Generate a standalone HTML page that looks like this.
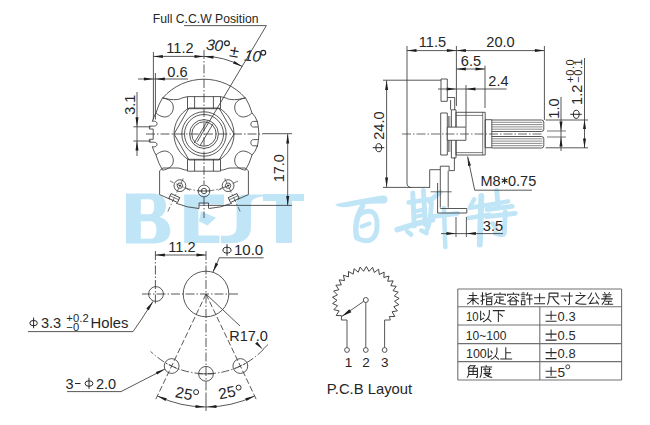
<!DOCTYPE html>
<html><head><meta charset="utf-8"><style>
html,body{margin:0;padding:0;background:#fff;overflow:hidden;}
svg{display:block;font-family:"Liberation Sans",sans-serif;}
</style></head><body>
<svg width="650" height="425" viewBox="0 0 650 425">
<rect width="650" height="425" fill="#fff"/>
<path d="M126,193.5 L152,193.5 C162.5,193.5 166,199.5 166,205.5 C166,211 163.5,215 159.5,217 C166.5,219 170.3,224.5 170.3,230.5 C170.3,238.5 165,243.5 153,243.5 L126,243.5 Z M140.8,199.2 L149.5,199.2 C153,199.2 154.2,202 154.2,206.5 C154.2,211 153,214.2 149.5,214.2 L140.8,214.2 Z M140.8,221.2 L150.5,221.2 C155,221.2 156.4,225 156.4,230 C156.4,235 155,238.8 150.5,238.8 L140.8,238.8 Z" stroke="none" stroke-width="0" fill="#bfe5f7" fill-rule="evenodd"/>
<path d="M184.2,194.4 L224,194.4 L224,204.4 L198.4,204.4 L198.4,235.5 L219.5,235.5 L219.5,243 L184.2,243 Z" stroke="none" stroke-width="0" fill="#bfe5f7"/>
<path d="M201,211.3 L216,217.7 L207.5,225.4 L199,221.2 Z" stroke="none" stroke-width="0" fill="#bfe5f7"/>
<path d="M236.5,199 C237.5,196 241,194.4 247,194.4 L265,194.4 L264,196.5 C258,197 252,198.5 251.2,203 L250.8,229 C250.3,239 242,243.3 228,243.3 L221,243.3 L221,235.8 L226,235.8 C233,235.8 236.6,233 236.6,227 Z" stroke="none" stroke-width="0" fill="#bfe5f7"/>
<rect x="263" y="194" width="41" height="7" fill="#bfe5f7"/>
<rect x="276" y="194" width="16" height="49" fill="#bfe5f7"/>
<g stroke="#bfe5f7" stroke-linecap="round" stroke-linejoin="round" fill="none" stroke-width="5">
<path d="M335,204.5 C342,202.5 352,200.8 360,199.3 C368,197.8 376,196.6 382,195.6 C386,195 388,197.5 387.5,200.5 C387,203 384.5,204 381,203.6 C372,203.2 362,204.2 352,206.2 C345,207.5 339,208 335,204.5 Z" stroke="none" stroke-width="0" fill="#bfe5f7"/>
<path d="M362.5,206 C358.5,213 355.8,221 355.8,229 C355.8,233 356.2,236 357,238" stroke-width="5.5"/>
<path d="M357,217.5 C361,212.5 366,210.5 371,211.5 C376,213 377.5,220 377,228 C376.5,236 372,240.8 366.5,240.8 C361,240.8 357.5,238.5 357,236" stroke-width="4.9"/>
<path d="M361.5,226.5 L369.5,223.5" stroke-width="4.1"/>
<path d="M412.8,193 L414.2,226" stroke-width="4.9"/>
<path d="M423.4,190.5 L425.3,224.5" stroke-width="4.9"/>
<path d="M408.5,202.5 L429.7,199.3" stroke-width="4.5"/>
<path d="M415.6,211.3 L425.5,209.2" stroke-width="4.1"/>
<path d="M415.6,216.6 L425.5,214.8" stroke-width="4.1"/>
<path d="M397.2,229.7 C408,226 420,222.5 432.6,219.8" stroke-width="5.5"/>
<path d="M407.2,231.5 L411.2,234.6" stroke-width="4.5"/>
<path d="M421.3,230.5 L426.6,233.2" stroke-width="4.5"/>
<path d="M429.5,201.5 C433,198 436.5,195 440,192.5" stroke-width="4.9"/>
<path d="M431.5,203 C431,214 430,223 426.9,230" stroke-width="4.7"/>
<path d="M434,216.3 L457.5,213.4" stroke-width="4.7"/>
<path d="M444,208 L445.3,247" stroke-width="4.5"/>
<path d="M474.2,199.3 L470.5,206" stroke-width="4.5"/>
<path d="M470,207.8 L488.3,205" stroke-width="4.7"/>
<path d="M468.5,218 L489.7,214.8" stroke-width="4.7"/>
<path d="M481.3,196 L479.8,244.5" stroke-width="5.9"/>
<path d="M488.3,205 L508,201.4" stroke-width="4.5"/>
<path d="M496.8,190.8 L498.2,207.8" stroke-width="4.9"/>
<path d="M487,209.6 L512.3,206.4" stroke-width="4.7"/>
<path d="M487,216.6 L515.2,213.4" stroke-width="4.9"/>
<path d="M505.3,212 L504.3,233 C503.5,235 500,235 495.4,233.2" stroke-width="4.9"/>
<path d="M492.6,223.3 L495.4,227.6" stroke-width="4.5"/>
</g>
<text x="152.8" y="23" font-size="12.2" text-anchor="start" fill="#262626">Full C.C.W Position</text>
<line x1="184" y1="25.6" x2="266.4" y2="25.6" stroke="#3a3a3a" stroke-width="0.85"/>
<line x1="266.4" y1="25.6" x2="197.2" y2="141.8" stroke="#3a3a3a" stroke-width="0.85"/>
<text x="180" y="53" font-size="14.6" text-anchor="middle" fill="#262626">11.2</text>
<line x1="153.4" y1="52" x2="153.4" y2="119.5" stroke="#3a3a3a" stroke-width="0.85"/>
<line x1="155.4" y1="73" x2="155.4" y2="119.5" stroke="#3a3a3a" stroke-width="0.85"/>
<line x1="153.4" y1="56.4" x2="204" y2="56.4" stroke="#3a3a3a" stroke-width="0.85"/>
<polygon points="153.4,56.4 162.9,57.9 162.9,54.9" fill="#1e1e1e"/>
<polygon points="204,56.4 194.5,54.9 194.5,57.9" fill="#1e1e1e"/>
<text x="177.5" y="76.6" font-size="14.6" text-anchor="middle" fill="#262626">0.6</text>
<line x1="138" y1="79" x2="188" y2="79" stroke="#3a3a3a" stroke-width="0.85"/>
<polygon points="153.4,79 143.9,77.5 143.9,80.5" fill="#1e1e1e"/>
<polygon points="155.4,79 164.9,80.5 164.9,77.5" fill="#1e1e1e"/>
<path d="M204,56.4 A77.6,77.6 0 0 1 242.21,66.46" stroke="#3a3a3a" stroke-width="0.85" fill="none"/>
<polygon points="204,56.4 213.35,58.65 213.59,55.66" fill="#1e1e1e"/>
<polygon points="242.21,66.46 234.36,60.91 233.03,63.6" fill="#1e1e1e"/>
<text x="205.8" y="49.8" font-size="15.5" text-anchor="start" fill="#262626" transform="rotate(5 205.8 49.8)" font-style="italic" letter-spacing="-0.4">30</text>
<circle cx="227" cy="43.2" r="2.4" stroke="#262626" stroke-width="1.15" fill="none"/>
<text x="228.8" y="56.2" font-size="17" text-anchor="start" fill="#262626" transform="rotate(10 228.8 56.2)">±</text>
<text x="243.8" y="60.6" font-size="15.5" text-anchor="start" fill="#262626" transform="rotate(5 243.8 60.6)" font-style="italic" letter-spacing="-0.4">10</text>
<circle cx="263.3" cy="52.8" r="2.4" stroke="#262626" stroke-width="1.15" fill="none"/>
<line x1="204" y1="50" x2="204" y2="184.5" stroke="#3a3a3a" stroke-width="0.85" stroke-dasharray="9 2 1.5 2"/>
<line x1="204" y1="197" x2="204" y2="218" stroke="#3a3a3a" stroke-width="0.85" stroke-dasharray="9 2 1.5 2"/>
<line x1="146" y1="134" x2="263" y2="134" stroke="#3a3a3a" stroke-width="0.85" stroke-dasharray="9 2 1.5 2"/>
<path d="M162.75,97.93 A54.8,54.8 0 0 1 245.25,97.93" stroke="#3a3a3a" stroke-width="0.85" fill="none"/>
<path d="M162.6,97.8 Q158.4,104.6 156,112.9" stroke="#3a3a3a" stroke-width="0.85" fill="none"/>
<path d="M162.6,170.2 Q158.4,163.4 156,155.1" stroke="#3a3a3a" stroke-width="0.85" fill="none"/>
<path d="M245.4,97.8 Q249.6,104.6 252,112.9" stroke="#3a3a3a" stroke-width="0.85" fill="none"/>
<path d="M245.4,170.2 Q249.6,163.4 252,155.1" stroke="#3a3a3a" stroke-width="0.85" fill="none"/>
<path d="M162.6,97.8 C168,99 173,101 173.3,107 C173.5,112.5 169.5,117 164.5,117 C161,116.7 158,115 156,112.9" stroke="#3a3a3a" stroke-width="0.85" fill="none"/>
<path d="M162.6,170.2 C168,169 173,167 173.3,161 C173.5,155.5 169.5,151 164.5,151 C161,151.3 158,153 156,155.1" stroke="#3a3a3a" stroke-width="0.85" fill="none"/>
<path d="M162.6,97.8 C170,100 178,100.5 182,98 L187.5,96.6" stroke="#3a3a3a" stroke-width="0.85" fill="none"/>
<path d="M162.9,168 L178,168 C181,168 183,170.2 187.5,170.2" stroke="#3a3a3a" stroke-width="0.85" fill="none"/>
<path d="M245.4,97.8 C240,99 235,101 234.7,107 C234.5,112.5 238.5,117 243.5,117 C247,116.7 250,115 252,112.9" stroke="#3a3a3a" stroke-width="0.85" fill="none"/>
<path d="M245.4,170.2 C240,169 235,167 234.7,161 C234.5,155.5 238.5,151 243.5,151 C247,151.3 250,153 252,155.1" stroke="#3a3a3a" stroke-width="0.85" fill="none"/>
<path d="M245.4,97.8 C238,100 230,100.5 226,98 L220.5,96.6" stroke="#3a3a3a" stroke-width="0.85" fill="none"/>
<path d="M245.1,168 L230,168 C227,168 225,170.2 220.5,170.2" stroke="#3a3a3a" stroke-width="0.85" fill="none"/>
<path d="M156,112.9 Q153.6,117 152.3,121.4 C155,120.5 157.5,122 157,124.2 C156.6,126 155,126.1 153,126.1 L149.4,126.1 L149.4,129 L153.2,129 L153.2,139.3 L149.4,139.3 L149.4,142.2 L153,142.2 C155,142.2 156.6,142.5 157,144 C157.5,146 155,147.5 152.3,146.6 Q153.6,151 156,155.1" stroke="#3a3a3a" stroke-width="0.85" fill="none"/>
<path d="M252,112.9 Q255.6,116.5 257.3,121.4" stroke="#3a3a3a" stroke-width="0.85" fill="none"/>
<path d="M257.6,121.4 L253.4,121.4 C250,121.4 250,127 253.4,127 L258.1,127" stroke="#3a3a3a" stroke-width="0.85" fill="none"/>
<path d="M258.1,139.6 L253.4,139.6 C250,139.6 250,145.8 253.4,145.8 L257.5,145.8" stroke="#3a3a3a" stroke-width="0.85" fill="none"/>
<path d="M257.3,146 Q255.6,151.5 252,155.1" stroke="#3a3a3a" stroke-width="0.85" fill="none"/>
<path d="M257.29,121.21 A54.8,54.8 0 0 1 257.29,146.79" stroke="#3a3a3a" stroke-width="0.85" fill="none"/>
<polygon points="187.5,96.6 220.5,96.6 220.5,108.7 187.5,108.7" stroke="#3a3a3a" stroke-width="0.85" fill="none"/>
<line x1="194.6" y1="96.6" x2="194.6" y2="108.7" stroke="#3a3a3a" stroke-width="0.85"/>
<line x1="213.4" y1="96.6" x2="213.4" y2="108.7" stroke="#3a3a3a" stroke-width="0.85"/>
<polygon points="187.5,159.3 220.5,159.3 220.5,171.2 187.5,171.2" stroke="#3a3a3a" stroke-width="0.85" fill="none"/>
<line x1="194.6" y1="159.3" x2="194.6" y2="171.2" stroke="#3a3a3a" stroke-width="0.85"/>
<line x1="213.4" y1="159.3" x2="213.4" y2="171.2" stroke="#3a3a3a" stroke-width="0.85"/>
<polygon points="174,134 189,108.02 219,108.02 234,134 219,159.98 189,159.98" stroke="#3a3a3a" stroke-width="0.85" fill="none"/>
<path d="M189,159.98 A30,30 0 0 1 189,108.02" stroke="#3a3a3a" stroke-width="0.85" fill="none"/>
<path d="M219,108.02 A30,30 0 0 1 219,159.98" stroke="#3a3a3a" stroke-width="0.85" fill="none"/>
<circle cx="204" cy="134" r="22.2" stroke="#3a3a3a" stroke-width="0.85" fill="none"/>
<circle cx="204" cy="134" r="19.5" stroke="#3a3a3a" stroke-width="0.85" fill="none"/>
<circle cx="204" cy="134" r="14.4" stroke="#3a3a3a" stroke-width="0.85" fill="none"/>
<circle cx="204" cy="134" r="12.2" stroke="#3a3a3a" stroke-width="0.85" fill="none"/>
<line x1="207.6" y1="120.6" x2="194.2" y2="143" stroke="#3a3a3a" stroke-width="0.85"/>
<line x1="213.2" y1="123.6" x2="200.2" y2="145.4" stroke="#3a3a3a" stroke-width="0.85"/>
<polyline points="162.9,168 159.6,170.8 159.6,194.6 170,199.2" stroke="#3a3a3a" stroke-width="0.85" fill="none"/>
<polyline points="245.1,168 248.4,170.8 248.4,194.6 238,199.2" stroke="#3a3a3a" stroke-width="0.85" fill="none"/>
<path d="M176.09,203.29 A74.7,74.7 0 0 0 199,208.53" stroke="#3a3a3a" stroke-width="0.85" fill="none"/>
<path d="M209,208.53 A74.7,74.7 0 0 0 231.91,203.29" stroke="#3a3a3a" stroke-width="0.85" fill="none"/>
<polyline points="199,208.5 199,203 208.5,203 208.5,208.5" stroke="#3a3a3a" stroke-width="0.85" fill="none"/>
<line x1="199" y1="205.5" x2="208.5" y2="205.5" stroke="#3a3a3a" stroke-width="0.6"/>
<g transform="rotate(24.9 174.27 198.04)"><rect x="169.47" y="195.34" width="9.6" height="5.4" fill="none" stroke="#3a3a3a" stroke-width="0.85"/><line x1="169.47" y1="197.74" x2="179.07" y2="197.74" stroke="#3a3a3a" stroke-width="0.6"/></g>
<g transform="rotate(-24.9 233.73 198.04)"><rect x="228.93" y="195.34" width="9.6" height="5.4" fill="none" stroke="#3a3a3a" stroke-width="0.85"/><line x1="228.93" y1="197.74" x2="238.53" y2="197.74" stroke="#3a3a3a" stroke-width="0.6"/></g>
<circle cx="179.91" cy="185.66" r="5.9" stroke="#3a3a3a" stroke-width="0.85" fill="none"/>
<circle cx="179.91" cy="185.66" r="2.7" stroke="#3a3a3a" stroke-width="0.85" fill="none"/>
<circle cx="179.91" cy="185.66" r="0.6" stroke="#3a3a3a" stroke-width="0.85" fill="#3a3a3a"/>
<line x1="183.29" y1="178.41" x2="167.65" y2="211.94" stroke="#3a3a3a" stroke-width="0.7" stroke-dasharray="5 2 1.5 2"/>
<line x1="189.88" y1="190.31" x2="169.94" y2="181.01" stroke="#3a3a3a" stroke-width="0.7" stroke-dasharray="6 3"/>
<circle cx="204" cy="191" r="5.9" stroke="#3a3a3a" stroke-width="0.85" fill="none"/>
<circle cx="204" cy="191" r="2.7" stroke="#3a3a3a" stroke-width="0.85" fill="none"/>
<line x1="198.1" y1="191" x2="209.9" y2="191" stroke="#3a3a3a" stroke-width="0.8"/>
<circle cx="228.09" cy="185.66" r="5.9" stroke="#3a3a3a" stroke-width="0.85" fill="none"/>
<circle cx="228.09" cy="185.66" r="2.7" stroke="#3a3a3a" stroke-width="0.85" fill="none"/>
<circle cx="228.09" cy="185.66" r="0.6" stroke="#3a3a3a" stroke-width="0.85" fill="#3a3a3a"/>
<line x1="224.71" y1="178.41" x2="240.35" y2="211.94" stroke="#3a3a3a" stroke-width="0.7" stroke-dasharray="5 2 1.5 2"/>
<line x1="238.06" y1="181.01" x2="218.12" y2="190.31" stroke="#3a3a3a" stroke-width="0.7" stroke-dasharray="6 3"/>
<path d="M225.35,186.85 A57,57 0 0 1 182.65,186.85" stroke="#3a3a3a" stroke-width="0.7" fill="none" stroke-dasharray="6 2 1.5 2"/>
<line x1="137" y1="92" x2="137" y2="156" stroke="#3a3a3a" stroke-width="0.85"/>
<polygon points="137,126.8 138.5,117.3 135.5,117.3" fill="#1e1e1e"/>
<polygon points="137,141 135.5,150.5 138.5,150.5" fill="#1e1e1e"/>
<line x1="133.4" y1="126.8" x2="151" y2="126.8" stroke="#3a3a3a" stroke-width="0.85"/>
<line x1="133.4" y1="141" x2="151" y2="141" stroke="#3a3a3a" stroke-width="0.85"/>
<text x="135" y="104.7" font-size="14.5" text-anchor="middle" fill="#262626" transform="rotate(-90 135 104.7)">3.1</text>
<line x1="263" y1="133.7" x2="292" y2="133.7" stroke="#3a3a3a" stroke-width="0.85"/>
<line x1="208.5" y1="205.4" x2="292" y2="205.4" stroke="#3a3a3a" stroke-width="0.85"/>
<line x1="287.7" y1="134" x2="287.7" y2="205.4" stroke="#3a3a3a" stroke-width="0.85"/>
<polygon points="287.7,134 286.2,143.5 289.2,143.5" fill="#1e1e1e"/>
<polygon points="287.7,205.4 289.2,195.9 286.2,195.9" fill="#1e1e1e"/>
<text x="284" y="168.2" font-size="14.5" text-anchor="middle" fill="#262626" transform="rotate(-90 284 168.2)">17.0</text>
<line x1="407" y1="46" x2="407" y2="80" stroke="#3a3a3a" stroke-width="0.85"/>
<line x1="407" y1="50.6" x2="456.4" y2="50.6" stroke="#3a3a3a" stroke-width="0.85"/>
<polygon points="407,50.6 416.5,52.1 416.5,49.1" fill="#1e1e1e"/>
<polygon points="456.4,50.6 446.9,49.1 446.9,52.1" fill="#1e1e1e"/>
<text x="432.5" y="47.4" font-size="14.6" text-anchor="middle" fill="#262626">11.5</text>
<line x1="456.4" y1="46" x2="456.4" y2="106" stroke="#3a3a3a" stroke-width="0.85"/>
<line x1="456.4" y1="50.6" x2="544.4" y2="50.6" stroke="#3a3a3a" stroke-width="0.85"/>
<polygon points="456.4,50.6 465.9,52.1 465.9,49.1" fill="#1e1e1e"/>
<polygon points="544.4,50.6 534.9,49.1 534.9,52.1" fill="#1e1e1e"/>
<text x="500.5" y="47.4" font-size="14.6" text-anchor="middle" fill="#262626">20.0</text>
<line x1="544.4" y1="46" x2="544.4" y2="120" stroke="#3a3a3a" stroke-width="0.85"/>
<line x1="456.4" y1="69" x2="485" y2="69" stroke="#3a3a3a" stroke-width="0.85"/>
<polygon points="456.4,69 465.9,70.5 465.9,67.5" fill="#1e1e1e"/>
<polygon points="485,69 475.5,67.5 475.5,70.5" fill="#1e1e1e"/>
<text x="471" y="66.4" font-size="14.6" text-anchor="middle" fill="#262626">6.5</text>
<line x1="485" y1="65.6" x2="485" y2="108" stroke="#3a3a3a" stroke-width="0.85"/>
<line x1="438" y1="89" x2="506.6" y2="89" stroke="#3a3a3a" stroke-width="0.85"/>
<polygon points="456.2,89 446.7,87.5 446.7,90.5" fill="#1e1e1e"/>
<polygon points="466,89 475.5,90.5 475.5,87.5" fill="#1e1e1e"/>
<text x="498.5" y="86" font-size="14.6" text-anchor="middle" fill="#262626">2.4</text>
<line x1="466" y1="85" x2="466" y2="127" stroke="#3a3a3a" stroke-width="0.85"/>
<line x1="383" y1="80.2" x2="441" y2="80.2" stroke="#3a3a3a" stroke-width="0.85"/>
<line x1="383" y1="187.4" x2="430" y2="187.4" stroke="#3a3a3a" stroke-width="0.85"/>
<line x1="386.6" y1="80.4" x2="386.6" y2="187" stroke="#3a3a3a" stroke-width="0.85"/>
<polygon points="386.6,80.4 385.1,89.9 388.1,89.9" fill="#1e1e1e"/>
<polygon points="386.6,187 388.1,177.5 385.1,177.5" fill="#1e1e1e"/>
<g transform="rotate(-90 384 152)">
<ellipse cx="388.3" cy="146.75" rx="4.06" ry="2.87" stroke="#262626" stroke-width="1.0" fill="none"/>
<line x1="388.3" y1="140.8" x2="388.3" y2="152.28" stroke="#262626" stroke-width="1.0"/>
<text x="396.3" y="152" font-size="14.5" text-anchor="start" fill="#262626">24.0</text>
</g>
<path d="M407,80 L407,183 Q407,187.4 411,187.4" stroke="#3a3a3a" stroke-width="0.85" fill="none"/>
<polyline points="429.7,187.4 429.7,169.7 440.3,169.7" stroke="#3a3a3a" stroke-width="0.85" fill="none"/>
<polygon points="441,79 447.3,79 447.3,101.3 441,101.3" stroke="#3a3a3a" stroke-width="0.85" fill="none"/>
<polyline points="447.3,97.5 454.7,97.5 454.7,109.8" stroke="#3a3a3a" stroke-width="0.85" fill="none"/>
<line x1="450.6" y1="100" x2="450.6" y2="109.8" stroke="#3a3a3a" stroke-width="0.85"/>
<polygon points="451.4,109.8 456,109.8 456,158 451.4,158" stroke="#3a3a3a" stroke-width="0.85" fill="none"/>
<polygon points="440.7,113 447.3,113 447.3,155 440.7,155" stroke="#3a3a3a" stroke-width="0.85" fill="none"/>
<line x1="448.5" y1="116" x2="448.5" y2="152" stroke="#3a3a3a" stroke-width="0.6"/>
<line x1="449.8" y1="116" x2="449.8" y2="152" stroke="#3a3a3a" stroke-width="0.6"/>
<polyline points="440.3,207.6 440.3,166.2 449.1,166.2 449.1,170.6 454.4,170.6 454.4,157.4" stroke="#3a3a3a" stroke-width="0.85" fill="none"/>
<line x1="448.2" y1="170.6" x2="448.2" y2="207.6" stroke="#3a3a3a" stroke-width="0.85"/>
<polyline points="437.6,183 437.6,213 466.8,213 466.8,208.5 440.3,208.5" stroke="#3a3a3a" stroke-width="0.85" fill="none"/>
<line x1="430.6" y1="191.8" x2="451.8" y2="191.8" stroke="#3a3a3a" stroke-width="0.7"/>
<polygon points="456,112.3 485.2,112.3 485.2,155 456,155" stroke="#3a3a3a" stroke-width="0.85" fill="none"/>
<line x1="456" y1="115.4" x2="482.7" y2="115.4" stroke="#3a3a3a" stroke-width="0.65"/>
<line x1="456" y1="152.6" x2="482.7" y2="152.6" stroke="#3a3a3a" stroke-width="0.65"/>
<line x1="482.7" y1="112.3" x2="482.7" y2="155" stroke="#3a3a3a" stroke-width="0.65"/>
<polygon points="447.3,127.1 465.9,127.1 465.9,140.3 447.3,140.3" stroke="#3a3a3a" stroke-width="0.85" fill="#fff"/>
<polygon points="485.2,119.7 491.8,119.7 491.8,147.7 485.2,147.7" stroke="#3a3a3a" stroke-width="0.85" fill="none"/>
<path d="M491.8,120 L541.5,120 Q543.8,120 543.8,122.2 L543.8,129.3 Q543.8,131.5 541.5,131.5 L491.8,131.5" stroke="#3a3a3a" stroke-width="0.85" fill="none"/>
<line x1="492" y1="122.3" x2="542.5" y2="122.3" stroke="#3a3a3a" stroke-width="0.6"/>
<line x1="492" y1="124.6" x2="542.5" y2="124.6" stroke="#3a3a3a" stroke-width="0.6"/>
<line x1="492" y1="126.9" x2="542.5" y2="126.9" stroke="#3a3a3a" stroke-width="0.6"/>
<line x1="492" y1="129.2" x2="542.5" y2="129.2" stroke="#3a3a3a" stroke-width="0.6"/>
<path d="M491.8,136.5 L541.5,136.5 Q543.8,136.5 543.8,138.7 L543.8,145.8 Q543.8,148 541.5,148 L491.8,148" stroke="#3a3a3a" stroke-width="0.85" fill="none"/>
<line x1="492" y1="138.8" x2="542.5" y2="138.8" stroke="#3a3a3a" stroke-width="0.6"/>
<line x1="492" y1="141.1" x2="542.5" y2="141.1" stroke="#3a3a3a" stroke-width="0.6"/>
<line x1="492" y1="143.4" x2="542.5" y2="143.4" stroke="#3a3a3a" stroke-width="0.6"/>
<line x1="492" y1="145.7" x2="542.5" y2="145.7" stroke="#3a3a3a" stroke-width="0.6"/>
<line x1="402" y1="134" x2="543" y2="134" stroke="#3a3a3a" stroke-width="0.75" stroke-dasharray="9 2 1.5 2"/>
<line x1="545.6" y1="120" x2="588" y2="120" stroke="#3a3a3a" stroke-width="0.85"/>
<line x1="545.6" y1="147.8" x2="588" y2="147.8" stroke="#3a3a3a" stroke-width="0.85"/>
<line x1="584.5" y1="58" x2="584.5" y2="148" stroke="#3a3a3a" stroke-width="0.85"/>
<polygon points="584.5,119.6 583,129.1 586,129.1" fill="#1e1e1e"/>
<polygon points="584.5,148 586,138.5 583,138.5" fill="#1e1e1e"/>
<line x1="547" y1="131" x2="566" y2="131" stroke="#3a3a3a" stroke-width="0.7"/>
<line x1="547" y1="137" x2="566" y2="137" stroke="#3a3a3a" stroke-width="0.7"/>
<line x1="561" y1="97" x2="561" y2="151" stroke="#3a3a3a" stroke-width="0.85"/>
<polygon points="561,131 562.5,121.5 559.5,121.5" fill="#1e1e1e"/>
<polygon points="561,137 559.5,146.5 562.5,146.5" fill="#1e1e1e"/>
<text x="558.5" y="108.5" font-size="14.6" text-anchor="middle" fill="#262626" transform="rotate(-90 558.5 108.5)">1.0</text>
<g transform="rotate(-90 581.5 118.5)">
<ellipse cx="585.7" cy="113.25" rx="4.06" ry="2.87" stroke="#262626" stroke-width="1.0" fill="none"/>
<line x1="585.7" y1="107.3" x2="585.7" y2="118.78" stroke="#262626" stroke-width="1.0"/>
<text x="595.1" y="118.5" font-size="14.5" text-anchor="start" fill="#262626">1.2</text>
<text x="617.3" y="111.2" font-size="11.2" text-anchor="start" fill="#262626" letter-spacing="0.45">+0.0</text>
<text x="617.3" y="119.4" font-size="11.2" text-anchor="start" fill="#262626" letter-spacing="0.45">−0.1</text>
</g>
<polygon points="467.6,156.5 468.09,166.11 471.03,165.49" fill="#1e1e1e"/>
<line x1="467.6" y1="156.5" x2="474.7" y2="190.2" stroke="#3a3a3a" stroke-width="0.85"/>
<line x1="474.7" y1="190.2" x2="532" y2="190.2" stroke="#3a3a3a" stroke-width="0.85"/>
<text x="480.5" y="185.9" font-size="14.5" text-anchor="start" fill="#262626">M8</text>
<path d="M504.6,183.9 L504.6,177.3 M507.46,182.25 L501.74,178.95 M507.46,178.95 L501.74,182.25 " stroke="#262626" stroke-width="1.1" fill="none"/>
<circle cx="504.6" cy="180.6" r="1.1" fill="#262626"/>
<text x="508" y="185.9" font-size="14.5" text-anchor="start" fill="#262626">0.75</text>
<line x1="456" y1="217" x2="456" y2="237" stroke="#3a3a3a" stroke-width="0.85"/>
<line x1="466.4" y1="217" x2="466.4" y2="237" stroke="#3a3a3a" stroke-width="0.85"/>
<line x1="441" y1="233.6" x2="503" y2="233.6" stroke="#3a3a3a" stroke-width="0.85"/>
<polygon points="456,233.6 446.5,232.1 446.5,235.1" fill="#1e1e1e"/>
<polygon points="466.4,233.6 475.9,235.1 475.9,232.1" fill="#1e1e1e"/>
<text x="493" y="231" font-size="14.6" text-anchor="middle" fill="#262626">3.5</text>
<line x1="155.4" y1="251" x2="155.4" y2="304" stroke="#3a3a3a" stroke-width="0.85" stroke-dasharray="9 2 1.5 2"/>
<line x1="206" y1="251" x2="206" y2="395" stroke="#3a3a3a" stroke-width="0.85" stroke-dasharray="9 2 1.5 2"/>
<line x1="206" y1="394" x2="206" y2="411" stroke="#3a3a3a" stroke-width="0.85"/>
<line x1="155.4" y1="255" x2="206" y2="255" stroke="#3a3a3a" stroke-width="0.85"/>
<polygon points="155.4,255 164.9,256.5 164.9,253.5" fill="#1e1e1e"/>
<polygon points="206,255 196.5,253.5 196.5,256.5" fill="#1e1e1e"/>
<text x="182" y="252" font-size="14.6" text-anchor="middle" fill="#262626">11.2</text>
<circle cx="156" cy="294" r="7.4" stroke="#3a3a3a" stroke-width="0.85" fill="none"/>
<line x1="142" y1="294" x2="239" y2="294" stroke="#3a3a3a" stroke-width="0.85" stroke-dasharray="9 2 1.5 2"/>
<circle cx="206" cy="294" r="22.8" stroke="#3a3a3a" stroke-width="0.85" fill="none"/>
<ellipse cx="227" cy="250.15" rx="4.06" ry="2.87" stroke="#262626" stroke-width="1.0" fill="none"/>
<line x1="227" y1="244.2" x2="227" y2="255.68" stroke="#262626" stroke-width="1.0"/>
<text x="234" y="255.4" font-size="15" text-anchor="start" fill="#262626">10.0</text>
<line x1="219.4" y1="257.8" x2="263.6" y2="257.8" stroke="#3a3a3a" stroke-width="0.85"/>
<line x1="219.4" y1="257.6" x2="213" y2="272" stroke="#3a3a3a" stroke-width="0.85"/>
<polygon points="213,272 218.23,263.93 215.49,262.71" fill="#1e1e1e"/>
<ellipse cx="33.6" cy="323.12" rx="3.77" ry="2.67" stroke="#262626" stroke-width="1.0" fill="none"/>
<line x1="33.6" y1="317.6" x2="33.6" y2="328.26" stroke="#262626" stroke-width="1.0"/>
<text x="41" y="328" font-size="14.5" text-anchor="start" fill="#262626">3.3</text>
<text x="66.3" y="321.8" font-size="11.2" text-anchor="start" fill="#262626" letter-spacing="0.1">+0.2</text>
<text x="66.3" y="331.4" font-size="11.2" text-anchor="start" fill="#262626" letter-spacing="0.1">−0</text>
<text x="90.5" y="328" font-size="14.8" text-anchor="start" fill="#262626">Holes</text>
<polyline points="28,331.6 133,331.6 141,320 153,301.5" stroke="#3a3a3a" stroke-width="0.85" fill="none"/>
<polygon points="153,301.5 146.34,308.44 148.81,310.16" fill="#1e1e1e"/>
<path d="M263.4,349.43 A79.8,79.8 0 0 1 150.57,351.4" stroke="#3a3a3a" stroke-width="0.85" fill="none" stroke-dasharray="8 2 1.5 2"/>
<line x1="206" y1="294" x2="256.8" y2="400.51" stroke="#3a3a3a" stroke-width="0.85" stroke-dasharray="6 2.5"/>
<line x1="206" y1="294" x2="155.2" y2="400.51" stroke="#3a3a3a" stroke-width="0.85" stroke-dasharray="6 2.5"/>
<line x1="206" y1="294" x2="240" y2="326" stroke="#3a3a3a" stroke-width="0.85"/>
<text x="229.2" y="340.8" font-size="14.5" text-anchor="start" fill="#262626">R17.0</text>
<polygon points="262.9,349.5 257.24,341.72 255.12,343.84" fill="#1e1e1e"/>
<line x1="262.9" y1="349.5" x2="268" y2="344.5" stroke="#3a3a3a" stroke-width="0.8"/>
<circle cx="240.35" cy="366.03" r="7.4" stroke="#3a3a3a" stroke-width="0.85" fill="none"/>
<line x1="246.22" y1="363.23" x2="234.49" y2="368.82" stroke="#3a3a3a" stroke-width="0.7" stroke-dasharray="4 1.5"/>
<circle cx="206" cy="373.8" r="7.4" stroke="#3a3a3a" stroke-width="0.85" fill="none"/>
<line x1="198.6" y1="373.8" x2="213.4" y2="373.8" stroke="#3a3a3a" stroke-width="0.8"/>
<circle cx="171.65" cy="366.03" r="7.4" stroke="#3a3a3a" stroke-width="0.85" fill="none"/>
<line x1="177.51" y1="368.82" x2="165.78" y2="363.23" stroke="#3a3a3a" stroke-width="0.7" stroke-dasharray="4 1.5"/>
<path d="M254.65,395.99 A113,113 0 0 1 157.35,395.99" stroke="#3a3a3a" stroke-width="0.85" fill="none"/>
<polygon points="157.35,395.99 165.53,401.05 166.69,398.28" fill="#1e1e1e"/>
<polygon points="205.01,407 195.61,404.96 195.44,407.95" fill="#1e1e1e"/>
<polygon points="206.99,407 216.56,407.95 216.39,404.96" fill="#1e1e1e"/>
<polygon points="254.65,395.99 245.31,398.28 246.47,401.05" fill="#1e1e1e"/>
<text x="174.6" y="397" font-size="15.5" text-anchor="start" fill="#262626" transform="rotate(11 174.6 397)">25</text>
<circle cx="196.1" cy="392.1" r="2.5" stroke="#262626" stroke-width="1.0" fill="none"/>
<text x="219.6" y="399.4" font-size="15.5" text-anchor="start" fill="#262626" transform="rotate(-11 219.6 399.4)">25</text>
<circle cx="238.6" cy="387.6" r="2.5" stroke="#262626" stroke-width="1.0" fill="none"/>
<text x="65.5" y="388.6" font-size="14.5" text-anchor="start" fill="#262626">3</text>
<line x1="75" y1="383.5" x2="80.5" y2="383.5" stroke="#262626" stroke-width="1.0"/>
<ellipse cx="89" cy="383.54" rx="3.91" ry="2.77" stroke="#262626" stroke-width="1.0" fill="none"/>
<line x1="89" y1="377.8" x2="89" y2="388.87" stroke="#262626" stroke-width="1.0"/>
<text x="96" y="388.6" font-size="14.5" text-anchor="start" fill="#262626">2.0</text>
<polyline points="67,391.6 121,391.6 165,369" stroke="#3a3a3a" stroke-width="0.85" fill="none"/>
<polygon points="165,369 155.83,371.91 157.17,374.59" fill="#1e1e1e"/>
<polyline points="341.65,315.69 336.2,315.48 339.14,310.89 333.83,309.67 337.57,305.71 332.59,303.52 337,300.33 332.51,297.24 337.45,294.93 333.62,291.06 338.9,289.72 335.86,285.2 341.3,284.87 339.16,279.86 344.56,280.55 343.39,275.23 348.57,276.92 348.42,271.48 353.19,274.11 354.07,268.73 358.26,272.2 360.12,267.09 363.59,271.28 366.38,266.61 369.01,271.38 372.62,267.3 374.3,272.48 378.62,269.16 379.3,274.56 384.16,272.1 383.82,277.54 389.06,276.03 387.71,281.3 393.13,280.8 390.82,285.73 396.24,286.25 393.05,290.66 398.27,292.19 394.31,295.93 399.16,298.4 394.57,301.33 398.87,304.67 393.81,306.69 397.41,310.78 392.07,311.81 394.84,316.5 389.39,316.52" stroke="#3a3a3a" stroke-width="0.95" fill="none"/>
<circle cx="365.8" cy="300" r="2.5" stroke="#3a3a3a" stroke-width="0.85" fill="none"/>
<line x1="363.7" y1="301.4" x2="342" y2="316.3" stroke="#3a3a3a" stroke-width="0.85"/>
<polygon points="342,316.3 351.37,312.31 349.25,309.16" fill="#1e1e1e"/>
<polyline points="341.65,315.69 341.3,320 347,320 347,347.6" stroke="#3a3a3a" stroke-width="0.85" fill="none"/>
<polyline points="389.39,316.52 390.3,320 384.6,320 384.6,347.6" stroke="#3a3a3a" stroke-width="0.85" fill="none"/>
<line x1="365.8" y1="302.5" x2="365.8" y2="347.6" stroke="#3a3a3a" stroke-width="0.85"/>
<circle cx="347" cy="350" r="2.4" stroke="#3a3a3a" stroke-width="0.85" fill="none"/>
<circle cx="365.8" cy="350" r="2.4" stroke="#3a3a3a" stroke-width="0.85" fill="none"/>
<circle cx="384.6" cy="350" r="2.4" stroke="#3a3a3a" stroke-width="0.85" fill="none"/>
<text x="348.5" y="367.2" font-size="13.5" text-anchor="middle" fill="#262626">1</text>
<text x="366" y="367.2" font-size="13.5" text-anchor="middle" fill="#262626">2</text>
<text x="384.8" y="367.2" font-size="13.5" text-anchor="middle" fill="#262626">3</text>
<text x="369.5" y="394" font-size="14.8" text-anchor="middle" fill="#262626">P.C.B Layout</text>
<line x1="457.8" y1="289" x2="621.6" y2="289" stroke="#707070" stroke-width="1.1"/>
<line x1="457.8" y1="306.8" x2="621.6" y2="306.8" stroke="#707070" stroke-width="1.1"/>
<line x1="457.8" y1="325" x2="621.6" y2="325" stroke="#707070" stroke-width="1.1"/>
<line x1="457.8" y1="343.6" x2="621.6" y2="343.6" stroke="#707070" stroke-width="1.1"/>
<line x1="457.8" y1="361.6" x2="621.6" y2="361.6" stroke="#707070" stroke-width="1.1"/>
<line x1="457.8" y1="380" x2="621.6" y2="380" stroke="#707070" stroke-width="1.1"/>
<line x1="457.8" y1="289" x2="457.8" y2="380" stroke="#707070" stroke-width="1.1"/>
<line x1="621.6" y1="289" x2="621.6" y2="380" stroke="#707070" stroke-width="1.1"/>
<line x1="539.8" y1="306.8" x2="539.8" y2="380" stroke="#707070" stroke-width="1.1"/>
<path transform="translate(466.8 292.3) scale(1.03)" d="M2,3.2 L10,3.2 M0.5,6.3 L11.5,6.3 M6,0 L6,12 M5.6,6.8 Q3.5,9.8 0.3,11.6 M6.4,6.8 Q8.5,9.8 11.7,11.6" stroke="#2a2a2a" stroke-width="1.02" fill="none" stroke-linecap="butt"/>
<path transform="translate(480.2 292.3) scale(1.03)" d="M0.3,3.6 L4.2,3.6 M2.2,0 L2.2,11.2 Q2.2,12 1.2,11.7 M0.2,8.6 L4.3,6.8 M5.6,0.2 L5.6,3.6 Q5.6,4.6 6.8,4.6 L11.6,4.6 L11.6,3.6 M11,0.6 L5.8,2.6 M6.2,6.2 L11.2,6.2 L11.2,12 L6.2,12 Z M6.2,9 L11.2,9" stroke="#2a2a2a" stroke-width="1.02" fill="none" stroke-linecap="butt"/>
<path transform="translate(493.6 292.3) scale(1.03)" d="M6,0 L6.4,1.4 M0.6,3.6 L0.6,1.8 L11.4,1.8 L11.4,3.6 M2.2,4.6 L9.8,4.6 M6,4.6 L6,10.6 M6,7.6 L10,7.6 M3.2,6.6 Q3,9.5 0.6,11.8 M2.8,9.6 Q5,11.4 12,11.6" stroke="#2a2a2a" stroke-width="1.02" fill="none" stroke-linecap="butt"/>
<path transform="translate(507 292.3) scale(1.03)" d="M6,0 L6.4,1.4 M0.6,3.6 L0.6,1.8 L11.4,1.8 L11.4,3.6 M4,3.6 L2.2,5.4 M8,3.6 L9.8,5.4 M6,4.6 Q4,7.6 0.4,9 M6,4.6 Q8,7.6 11.6,9 M3,8.4 L9,8.4 L9,12 L3,12 Z" stroke="#2a2a2a" stroke-width="1.02" fill="none" stroke-linecap="butt"/>
<path transform="translate(520.4 292.3) scale(1.03)" d="M1.2,0.6 L4,0.6 M0.3,2.4 L5,2.4 M1,4.4 L4.4,4.4 M1,6.3 L4.4,6.3 M1,8.2 L4.4,8.2 L4.4,12 L1,12 Z M7.2,0 Q6.6,2 5.8,3.2 M6.6,2.6 L11.6,2.6 M5.8,6.6 L12,6.6 M9,2.6 L9,12" stroke="#2a2a2a" stroke-width="1.02" fill="none" stroke-linecap="butt"/>
<path d="M534.1,297.8 L545.1,297.8 M539.6,293.3 L539.6,302.3 M534.1,303.8 L545.1,303.8" stroke="#2a2a2a" stroke-width="1.05" fill="none"/>
<path transform="translate(547.2 292.3) scale(1.03)" d="M1.8,0.8 L10.4,0.8 L10.4,4.4 L1.8,4.4 M1.8,0.8 L1.8,6 Q1.6,10 0.2,12 M5.2,4.4 Q7.6,9.5 11.8,11.8" stroke="#2a2a2a" stroke-width="1.02" fill="none" stroke-linecap="butt"/>
<path transform="translate(560.6 292.3) scale(1.03)" d="M0.2,3.6 L11.8,3.6 M8.6,0 L8.6,11.2 Q8.6,12 7.2,11.6 M3.4,6.2 L5.4,8.8" stroke="#2a2a2a" stroke-width="1.02" fill="none" stroke-linecap="butt"/>
<path transform="translate(574 292.3) scale(1.03)" d="M5.6,0 L6.8,1.6 M1.6,3.2 L10.4,3.2 Q6,7 1.4,10.4 M1.4,10.4 Q3.6,11.6 12,11.6" stroke="#2a2a2a" stroke-width="1.02" fill="none" stroke-linecap="butt"/>
<path transform="translate(587.4 292.3) scale(1.03)" d="M4.2,0.4 Q3.2,4 0.3,6.6 M7.8,0.4 Q8.8,4 11.7,6.6 M6.2,4.6 L2,11 L10.6,10.2 M8.6,8 L11,11.8" stroke="#2a2a2a" stroke-width="1.02" fill="none" stroke-linecap="butt"/>
<path transform="translate(600.8 292.3) scale(1.03)" d="M3.4,0 L4.4,1.4 M8.6,0 L7.6,1.4 M1.6,2.4 L10.4,2.4 M2.4,4.4 L9.6,4.4 M0.4,6.4 L11.6,6.4 M5.4,2.4 Q4.8,8 1,12 M4.4,8.6 L10.8,8.6 M7.6,8.6 L7.6,11.6 M3.4,11.6 L12,11.6" stroke="#2a2a2a" stroke-width="1.02" fill="none" stroke-linecap="butt"/>
<text x="466" y="320.6" font-size="13.3" fill="#2a2a2a" textLength="12.6" lengthAdjust="spacingAndGlyphs">10</text>
<path transform="translate(479 309.6) scale(1.03)" d="M1.6,1 L1.6,10 L5,8 M4,3.2 L5.6,6 M10,0.4 L10,4.6 Q9.6,9 4,12 M8.4,8.6 L12,12" stroke="#2a2a2a" stroke-width="1.02" fill="none" stroke-linecap="butt"/>
<path transform="translate(492.6 309.6) scale(1.03)" d="M0.2,1 L11.8,1 M5.6,1 L5.6,12 M6.6,4 L10,6.8" stroke="#2a2a2a" stroke-width="1.02" fill="none" stroke-linecap="butt"/>
<text x="465.8" y="339.9" font-size="13.3" fill="#2a2a2a" textLength="40.6" lengthAdjust="spacingAndGlyphs">10~100</text>
<text x="466" y="358" font-size="13.3" fill="#2a2a2a" textLength="20.8" lengthAdjust="spacingAndGlyphs">100</text>
<path transform="translate(486.6 347.2) scale(1.03)" d="M1.6,1 L1.6,10 L5,8 M4,3.2 L5.6,6 M10,0.4 L10,4.6 Q9.6,9 4,12 M8.4,8.6 L12,12" stroke="#2a2a2a" stroke-width="1.02" fill="none" stroke-linecap="butt"/>
<path transform="translate(500 347.2) scale(1.03)" d="M5.6,0 L5.6,11.4 M5.6,5.4 L10.8,5.4 M0.2,11.4 L11.8,11.4" stroke="#2a2a2a" stroke-width="1.02" fill="none" stroke-linecap="butt"/>
<path transform="translate(466.5 365.2) scale(1.03)" d="M4,0 L1.2,3 M4,0.6 L8.2,0.6 L6.6,2.6 M2.2,3 L10.6,3 L10.6,11.6 Q10.6,12 9.2,11.6 M2.2,3 L2.2,8 Q2,10.6 0.4,12 M2.2,6 L10.6,6 M2.2,9 L10.6,9 M6.4,3 L6.4,9" stroke="#2a2a2a" stroke-width="1.02" fill="none" stroke-linecap="butt"/>
<path transform="translate(479.8 365.2) scale(1.03)" d="M6,0 L6.4,1.4 M1,1.8 L12,1.8 M1.6,1.8 L1.6,7 Q1.4,10.4 0,12 M3.2,4 L11.4,4 M5.2,2.6 L5.2,6.6 L9.4,6.6 L9.4,2.6 M3.6,8.2 L10.2,8.2 Q8,11 3.6,12 M5,9 Q8,11.4 12,12" stroke="#2a2a2a" stroke-width="1.02" fill="none" stroke-linecap="butt"/>
<path d="M545.6,315.2 L556.6,315.2 M551.1,310.7 L551.1,319.7 M545.6,321.2 L556.6,321.2" stroke="#2a2a2a" stroke-width="1.05" fill="none"/>
<text x="557.6" y="320.6" font-size="13.3" fill="#2a2a2a" textLength="18" lengthAdjust="spacingAndGlyphs">0.3</text>
<path d="M545.6,334.1 L556.6,334.1 M551.1,329.6 L551.1,338.6 M545.6,340.1 L556.6,340.1" stroke="#2a2a2a" stroke-width="1.05" fill="none"/>
<text x="557.6" y="339.5" font-size="13.3" fill="#2a2a2a" textLength="18" lengthAdjust="spacingAndGlyphs">0.5</text>
<path d="M545.6,352.6 L556.6,352.6 M551.1,348.1 L551.1,357.1 M545.6,358.6 L556.6,358.6" stroke="#2a2a2a" stroke-width="1.05" fill="none"/>
<text x="557.6" y="358" font-size="13.3" fill="#2a2a2a" textLength="18" lengthAdjust="spacingAndGlyphs">0.8</text>
<path d="M545.6,371.2 L556.6,371.2 M551.1,366.7 L551.1,375.7 M545.6,377.2 L556.6,377.2" stroke="#2a2a2a" stroke-width="1.05" fill="none"/>
<text x="557.6" y="376.6" font-size="13.3" fill="#2a2a2a" textLength="7.6" lengthAdjust="spacingAndGlyphs">5</text>
<circle cx="567.8" cy="366.8" r="2" stroke="#2a2a2a" stroke-width="0.9" fill="none"/>
</svg></body></html>
